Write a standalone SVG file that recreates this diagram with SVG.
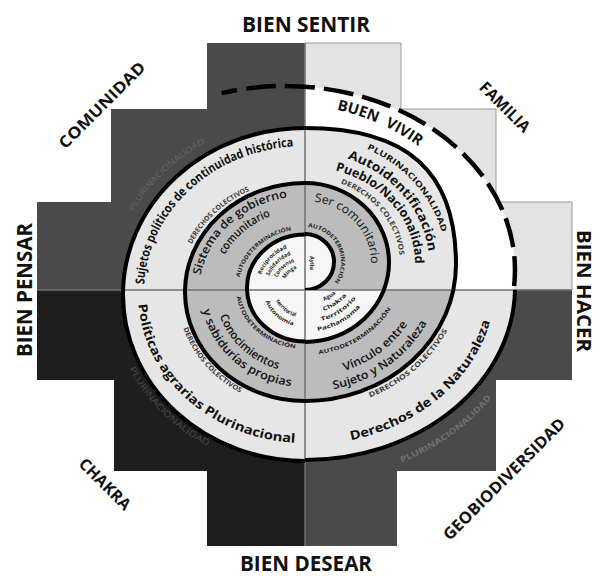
<svg xmlns="http://www.w3.org/2000/svg" width="598" height="576" viewBox="0 0 598 576">
<style>
  text { font-family: "Open Sans", "Liberation Sans", sans-serif; fill: #111; }
  .lbl { font-weight: 700; }
  .big { font-size: 21.5px; }
  .diag { font-size: 16px; }
  .rb { font-weight: 700; font-size: 12.5px; }
  .rs { font-weight: 600; font-size: 11.5px; }
  .rr { font-weight: 400; font-size: 12px; }
  .tiny { font-weight: 700; font-size: 5.5px; fill: #222; }
  .dc { font-weight: 700; font-size: 7px; fill: #3c3c3c; }
  .plu { font-weight: 700; font-size: 8px; }
  .faint { font-weight: 400; font-size: 8.5px; }
  .spiral { fill: none; stroke: #000; stroke-width: 4; }
  .light { fill: #e6e6e6; }
  .mid { fill: #bcbcbc; }
  .inner { fill: #f6f6f6; }
  .div { stroke: #707070; stroke-width: 1.5; fill: none; }
</style>
<defs>
  <clipPath id="cTL"><rect x="0" y="0" width="305" height="290"/></clipPath>
  <clipPath id="cTR"><rect x="305" y="0" width="293" height="290"/></clipPath>
  <clipPath id="cBL"><rect x="0" y="290" width="305" height="286"/></clipPath>
  <clipPath id="cBR"><rect x="305" y="290" width="293" height="286"/></clipPath>
  <!-- text paths: TL (clockwise) -->
  <path id="pTL1" d="M144.2,284.4 A161,146 0 0 1 293.8,146.4"/>
  <path id="pTL2" d="M191.7,244.2 A125,113 0 0 1 252.2,189.6"/>
  <path id="pTL3" d="M200.6,275.3 A106,96 0 0 1 290.2,196.9"/>
  <path id="pTL4" d="M224.8,254.8 A90,82 0 0 1 271.3,216"/>
  <path id="pTL5" d="M239.5,277.3 A67,61 0 0 1 293.4,229.9"/>
  <path id="pTLf" d="M133.7,211.4 A194,176 0 0 1 208,141.6"/>
  <path id="pTLi1" d="M261.2,274.7 A46,43 0 0 1 287.8,248.1"/>
  <path id="pTLi2" d="M269.3,275.9 A38,35.5 0 0 1 292,254.6"/>
  <path id="pTLi3" d="M277.2,277.5 A30,28 0 0 1 295.7,261.4"/>
  <path id="pTLi4" d="M285.1,279.1 A22,21 0 0 1 297.5,268.3"/>
  <!-- TR (clockwise) -->
  <path id="pBV" d="M336.8,109.7 A200,166 0 0 1 423.9,150.6"/>
  <path id="pTR1" d="M366.8,148.9 A141,127 0 0 1 441.8,232.3"/>
  <path id="pTR2" d="M347.4,158.7 A124,111 0 0 1 428.3,251.4"/>
  <path id="pTR3" d="M335.3,170.7 A110,96 0 0 1 415,263"/>
  <path id="pTR4" d="M340.6,183.3 A95,86 0 0 1 399.8,257"/>
  <path id="pTR5" d="M314.2,201.6 A66,61 0 0 1 371,264.1"/>
  <path id="pTR6" d="M308.1,227.1 A36,35 0 0 1 332.6,284.5"/>
  <!-- BR (counter-clockwise) -->
  <path id="pBR1" d="M351,440.2 A190,160 0 0 0 490.1,321"/>
  <path id="pBRf" d="M401.4,462.6 A228,196 0 0 0 494,394.6"/>
  <path id="pBR2" d="M370.1,397.4 A160,146 0 0 0 448.8,328"/>
  <path id="pBR3" d="M333.5,389.2 A137,127 0 0 0 428.1,320.7"/>
  <path id="pBR4" d="M344.4,370.9 A121,112 0 0 0 408.7,322.7"/>
  <path id="pBR5" d="M318.8,354.1 A99,92 0 0 0 392.4,306.2"/>
  <path id="pBRi1" d="M317.5,331 A72,69 0 0 0 361.7,305.5"/>
  <path id="pBRi2" d="M321.3,321 A63,60 0 0 0 356.6,297.4"/>
  <path id="pBRi3" d="M323.5,310.9 A54,51 0 0 0 347.6,294.4"/>
  <path id="pBRi4" d="M324,301 A45,42 0 0 0 336.8,292.7"/>
  <!-- BL (counter-clockwise) -->
  <path id="pBL1" d="M138.4,304.4 A167,149 0 0 0 296.3,442.8"/>
  <path id="pBLf" d="M129.2,368.4 A194,176 0 0 0 210.9,447.9"/>
  <path id="pBL2" d="M183.3,328.2 A128,117 0 0 0 241,393.3"/>
  <path id="pBL3" d="M202.9,310.1 A104,95 0 0 0 292.3,386.3"/>
  <path id="pBL4" d="M219.9,315.7 A89,81 0 0 0 279,369.5"/>
  <path id="pBL5" d="M236.7,296.5 A69,61 0 0 0 297.8,348.7"/>
  <path id="pBLi1" d="M265.5,301.3 A42,39 0 0 0 294.1,325.7"/>
  <path id="pBLi2" d="M276,300.7 A32,30 0 0 0 296.7,317"/>
</defs>

<!-- chakana quadrants -->
<g id="quadrant-comunidad">
  <polygon points="305,43 207,43 207,109 111,109 111,202 37,202 37,290 305,290" fill="#4a4a4a"/>
</g>
<g id="quadrant-familia">
  <polygon points="305,43 401,43 401,109 496,109 496,202 572,202 572,290 305,290" fill="#e3e3e3" stroke="#9a9a9a" stroke-width="1"/>
</g>
<g id="quadrant-chakra">
  <polygon points="305,290 37,290 37,380 114,380 114,471 207,471 207,546 305,546" fill="#1e1e1e"/>
</g>
<g id="quadrant-geobiodiversidad">
  <polygon points="305,290 572,290 572,380 496,380 496,471 397,471 397,546 305,546" fill="#4a4a4a"/>
</g>

<!-- ring fills -->
<g id="rings">
  <g clip-path="url(#cTR)">
    <ellipse cx="285" cy="270" rx="230" ry="184" fill="#ffffff"/>
    <path d="M305,128 C407.7,128 456,171.7 456,264.5 A151,136.5 0 0 1 453.3,290 L305,290 Z" class="light"/>
    <ellipse cx="305" cy="262.5" rx="84" ry="79.5" class="mid"/>
    <ellipse cx="305" cy="262" rx="29" ry="28" class="inner"/>
  </g>
  <g clip-path="url(#cBR)">
    <ellipse cx="305" cy="287" rx="210" ry="173" class="light"/>
    <ellipse cx="305" cy="264.5" rx="151" ry="136.5" class="mid"/>
    <ellipse cx="305" cy="262.5" rx="84" ry="79.5" class="inner"/>
  </g>
  <g clip-path="url(#cTL)">
    <ellipse cx="305" cy="294.5" rx="182" ry="166.5" class="light"/>
    <ellipse cx="305" cy="292" rx="120" ry="109" class="mid"/>
    <ellipse cx="305" cy="288" rx="58" ry="53.5" class="inner"/>
  </g>
  <g clip-path="url(#cBL)">
    <ellipse cx="305" cy="294.5" rx="182" ry="166.5" class="light"/>
    <ellipse cx="305" cy="292" rx="120" ry="109" class="mid"/>
    <ellipse cx="305" cy="288" rx="58" ry="53.5" class="inner"/>
  </g>
</g>

<!-- dividers -->
<g id="dividers">
  <line class="div" x1="305" y1="43" x2="305" y2="546"/>
  <line class="div" x1="37" y1="290" x2="572" y2="290"/>
</g>

<!-- spiral (connector) -->
<g id="connectors">
  <g clip-path="url(#cTR)">
    <path d="M305,128 C407.7,128 456,171.7 456,264.5 A151,136.5 0 0 1 453.3,290" class="spiral"/>
    <ellipse cx="305" cy="262.5" rx="84" ry="79.5" class="spiral"/>
    <ellipse cx="305" cy="262" rx="29" ry="28" class="spiral"/>
  </g>
  <g clip-path="url(#cBR)">
    <ellipse cx="305" cy="287" rx="210" ry="173" class="spiral"/>
    <ellipse cx="305" cy="264.5" rx="151" ry="136.5" class="spiral"/>
    <ellipse cx="305" cy="262.5" rx="84" ry="79.5" class="spiral"/>
  </g>
  <g clip-path="url(#cTL)">
    <ellipse cx="305" cy="294.5" rx="182" ry="166.5" class="spiral"/>
    <ellipse cx="305" cy="292" rx="120" ry="109" class="spiral"/>
    <ellipse cx="305" cy="288" rx="58" ry="53.5" class="spiral"/>
  </g>
  <g clip-path="url(#cBL)">
    <ellipse cx="305" cy="294.5" rx="182" ry="166.5" class="spiral"/>
    <ellipse cx="305" cy="292" rx="120" ry="109" class="spiral"/>
    <ellipse cx="305" cy="288" rx="58" ry="53.5" class="spiral"/>
  </g>
  <path d="M514.1,286 A230,184 0 0 0 221.6,93.1" fill="none" stroke="#000" stroke-width="4.5" stroke-dasharray="30 9"/>
</g>

<!-- outer labels -->
<g id="labels">
  <text class="lbl big" x="306" y="32" text-anchor="middle" textLength="128" lengthAdjust="spacingAndGlyphs">BIEN SENTIR</text>
  <text class="lbl big" x="306" y="571" text-anchor="middle" textLength="132" lengthAdjust="spacingAndGlyphs">BIEN DESEAR</text>
  <text class="lbl big" transform="translate(32,290) rotate(-90)" text-anchor="middle" textLength="134" lengthAdjust="spacingAndGlyphs">BIEN PENSAR</text>
  <text class="lbl" font-size="20" transform="translate(577,291) rotate(90)" text-anchor="middle" textLength="122" lengthAdjust="spacingAndGlyphs">BIEN HACER</text>
  <text class="lbl diag" transform="translate(106,109) rotate(-45)" text-anchor="middle" textLength="115" lengthAdjust="spacingAndGlyphs">COMUNIDAD</text>
  <text class="lbl diag" transform="translate(501,111) rotate(45)" text-anchor="middle" textLength="64" lengthAdjust="spacingAndGlyphs">FAMILIA</text>
  <text class="lbl diag" transform="translate(101,488) rotate(45)" text-anchor="middle" textLength="66" lengthAdjust="spacingAndGlyphs">CHAKRA</text>
  <text class="lbl diag" transform="translate(508,483) rotate(-45)" text-anchor="middle" textLength="165" lengthAdjust="spacingAndGlyphs">GEOBIODIVERSIDAD</text>
  <text class="lbl" font-size="15"><textPath href="#pBV" textLength="90" lengthAdjust="spacingAndGlyphs" word-spacing="5">BUEN VIVIR</textPath></text>
</g>

<!-- Comunidad ring texts -->
<g id="texts-comunidad">
  <text class="rb" font-size="12"><textPath href="#pTL1" textLength="222" lengthAdjust="spacingAndGlyphs">Sujetos políticos de continuidad histórica</textPath></text>
  <text class="dc"><textPath href="#pTL2" textLength="80" lengthAdjust="spacingAndGlyphs">DERECHOS COLECTIVOS</textPath></text>
  <text class="rs"><textPath href="#pTL3" textLength="124" lengthAdjust="spacingAndGlyphs">Sistema de gobierno</textPath></text>
  <text class="rs"><textPath href="#pTL4" textLength="61" lengthAdjust="spacingAndGlyphs">comunitario</textPath></text>
  <text class="tiny"><textPath href="#pTL5" textLength="74" lengthAdjust="spacingAndGlyphs">AUTODETERMINACIÓN</textPath></text>
  <text class="faint" style="fill:#666"><textPath href="#pTLf" textLength="100" lengthAdjust="spacingAndGlyphs">PLURINACIONALIDAD</textPath></text>
  <text class="tiny" font-size="5"><textPath href="#pTLi1" textLength="38" lengthAdjust="spacingAndGlyphs">Reciprocidad</textPath></text>
  <text class="tiny" font-size="5"><textPath href="#pTLi2" textLength="31" lengthAdjust="spacingAndGlyphs">Solidaridad</textPath></text>
  <text class="tiny" font-size="5"><textPath href="#pTLi3" textLength="24" lengthAdjust="spacingAndGlyphs">Consenso</textPath></text>
  <text class="tiny" font-size="5"><textPath href="#pTLi4" textLength="16" lengthAdjust="spacingAndGlyphs">Minga</textPath></text>
</g>

<!-- Familia ring texts -->
<g id="texts-familia">
  <text class="plu"><textPath href="#pTR1" textLength="116" lengthAdjust="spacingAndGlyphs">PLURINACIONALIDAD</textPath></text>
  <text class="rb" font-size="13"><textPath href="#pTR2" textLength="130" lengthAdjust="spacingAndGlyphs">Autoidentificación</textPath></text>
  <text class="rb"><textPath href="#pTR3" textLength="132" lengthAdjust="spacingAndGlyphs">Pueblo/Nacionalidad</textPath></text>
  <text class="dc"><textPath href="#pTR4" textLength="98" lengthAdjust="spacingAndGlyphs">DERECHOS COLECTIVOS</textPath></text>
  <text class="rr"><textPath href="#pTR5" textLength="92" lengthAdjust="spacingAndGlyphs">Ser comunitario</textPath></text>
  <text class="tiny" font-size="5"><textPath href="#pTR6" textLength="74" lengthAdjust="spacingAndGlyphs">AUTODETERMINACIÓN</textPath></text>
  <text class="tiny" font-size="6.5" transform="translate(310,263) rotate(90)" text-anchor="middle">Ayllu</text>
</g>

<!-- Geobiodiversidad ring texts -->
<g id="texts-geobiodiversidad">
  <text class="rb" font-size="14"><textPath href="#pBR1" textLength="192" lengthAdjust="spacingAndGlyphs">Derechos de la Naturaleza</textPath></text>
  <text class="plu" style="fill:#707070"><textPath href="#pBRf" textLength="112" lengthAdjust="spacingAndGlyphs">PLURINACIONALIDAD</textPath></text>
  <text class="dc"><textPath href="#pBR2" textLength="104" lengthAdjust="spacingAndGlyphs">DERECHOS COLECTIVOS</textPath></text>
  <text class="rs"><textPath href="#pBR3" textLength="118" lengthAdjust="spacingAndGlyphs">Sujeto y Naturaleza</textPath></text>
  <text class="rs"><textPath href="#pBR4" textLength="80" lengthAdjust="spacingAndGlyphs">Vínculo entre</textPath></text>
  <text class="tiny"><textPath href="#pBR5" textLength="88" lengthAdjust="spacingAndGlyphs">AUTODETERMINACIÓN</textPath></text>
  <text class="tiny" font-size="5"><textPath href="#pBRi1" textLength="50" lengthAdjust="spacingAndGlyphs">Pachamama</textPath></text>
  <text class="tiny" font-size="5"><textPath href="#pBRi2" textLength="42" lengthAdjust="spacingAndGlyphs">Territorio</textPath></text>
  <text class="tiny" font-size="5"><textPath href="#pBRi3" textLength="28" lengthAdjust="spacingAndGlyphs">Chakra</textPath></text>
  <text class="tiny" font-size="5"><textPath href="#pBRi4" textLength="14" lengthAdjust="spacingAndGlyphs">Agua</textPath></text>
</g>

<!-- Chakra ring texts -->
<g id="texts-chakra">
  <text class="rb" font-size="13"><textPath href="#pBL1" textLength="228" lengthAdjust="spacingAndGlyphs">Políticas agrarias Plurinacional</textPath></text>
  <text class="faint" style="fill:#4a4a4a"><textPath href="#pBLf" textLength="112" lengthAdjust="spacingAndGlyphs">PLURINACIONALIDAD</textPath></text>
  <text class="dc"><textPath href="#pBL2" textLength="88" lengthAdjust="spacingAndGlyphs">DERECHOS COLECTIVOS</textPath></text>
  <text class="rs"><textPath href="#pBL3" textLength="124" lengthAdjust="spacingAndGlyphs">y sabidurías propias</textPath></text>
  <text class="rs"><textPath href="#pBL4" textLength="82" lengthAdjust="spacingAndGlyphs">Conocimientos</textPath></text>
  <text class="tiny"><textPath href="#pBL5" textLength="84" lengthAdjust="spacingAndGlyphs">AUTODETERMINACIÓN</textPath></text>
  <text class="tiny" font-size="5"><textPath href="#pBLi1" textLength="38" lengthAdjust="spacingAndGlyphs">Autonomía</textPath></text>
  <text class="tiny" font-size="5"><textPath href="#pBLi2" textLength="26" lengthAdjust="spacingAndGlyphs">territorial</textPath></text>
</g>
</svg>
